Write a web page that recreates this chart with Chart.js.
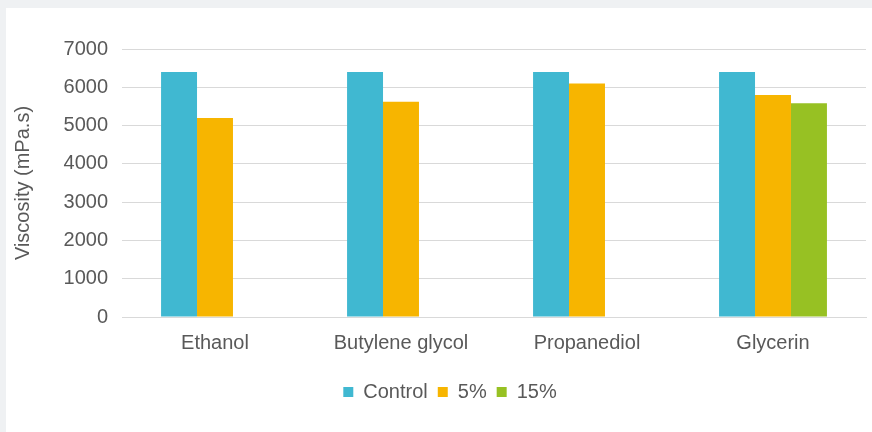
<!DOCTYPE html>
<html>
<head>
<meta charset="utf-8">
<script src="https://cdn.jsdelivr.net/npm/chart.js@4/dist/chart.umd.min.js"></script>
<style>
  html, body { margin: 0; padding: 0; background: #eff1f3; }
  #panel { position: absolute; left: 6px; top: 8px; width: 866px; height: 424px; background: #fff; }
</style>
</head>
<body>
<div id="panel"><canvas id="viscChart" width="866" height="424"></canvas></div>
<script>
const categories = ['Ethanol', 'Butylene glycol', 'Propanediol', 'Glycerin'];
const controlValues = [6400, 6400, 6400, 6400];
const fivePctValues = [5200, 5620, 6100, 5800];
const fifteenPctValues = [null, null, null, 5580];
const yTicks = [0, 1000, 2000, 3000, 4000, 5000, 6000, 7000];

const textColor = '#595959';
const gridColor = '#d9d9d9';
const font = { family: '"Liberation Sans", Arial, sans-serif', size: 20 };

// nudge the legend a bit to the right, like in the original
const legendShift = {
  id: 'legendShift',
  afterLayout(chart) {
    chart.legend.left += 14;
    chart.legend.right += 14;
  }
};

const ctx = document.getElementById('viscChart').getContext('2d');

const viscChart = new Chart(ctx, {
  type: 'bar',
  data: {
    labels: categories,
    datasets: [
      { label: 'Control', data: controlValues, backgroundColor: '#40b8d1' },
      { label: '5%', data: fivePctValues, backgroundColor: '#f7b500' },
      { label: '15%', data: fifteenPctValues, backgroundColor: '#97c123' }
    ]
  },
  options: {
    responsive: false,
    animation: false,
    layout: { padding: { top: 41, right: 6, bottom: 20, left: 0 } },
    datasets: {
      bar: { categoryPercentage: 0.58, barPercentage: 1, borderWidth: 0 }
    },
    plugins: {
      tooltip: { enabled: false },
      legend: {
        position: 'bottom',
        labels: {
          boxWidth: 10,
          boxHeight: 10,
          padding: 10,
          color: textColor,
          font: font
        }
      }
    },
    scales: {
      x: {
        grid: { display: false, drawTicks: false },
        border: { display: true, color: gridColor, width: 1 },
        ticks: { color: textColor, font: font, padding: 14, maxRotation: 0 },
        afterFit: scale => { scale.height = 55; }
      },
      y: {
        min: 0,
        max: 7000,
        afterBuildTicks: scale => { scale.ticks = yTicks.map(v => ({ value: v })); },
        grid: { color: gridColor, lineWidth: 1, drawTicks: false },
        border: { display: false },
        ticks: { color: textColor, font: font, padding: 14, callback: v => String(v) },
        title: {
          display: true,
          text: 'Viscosity (mPa.s)',
          color: textColor,
          font: font,
          padding: { top: 5, bottom: 0 }
        },
        afterFit: scale => { scale.width = 116; }
      }
    }
  },
  plugins: [legendShift]
});
</script>
</body>
</html>
